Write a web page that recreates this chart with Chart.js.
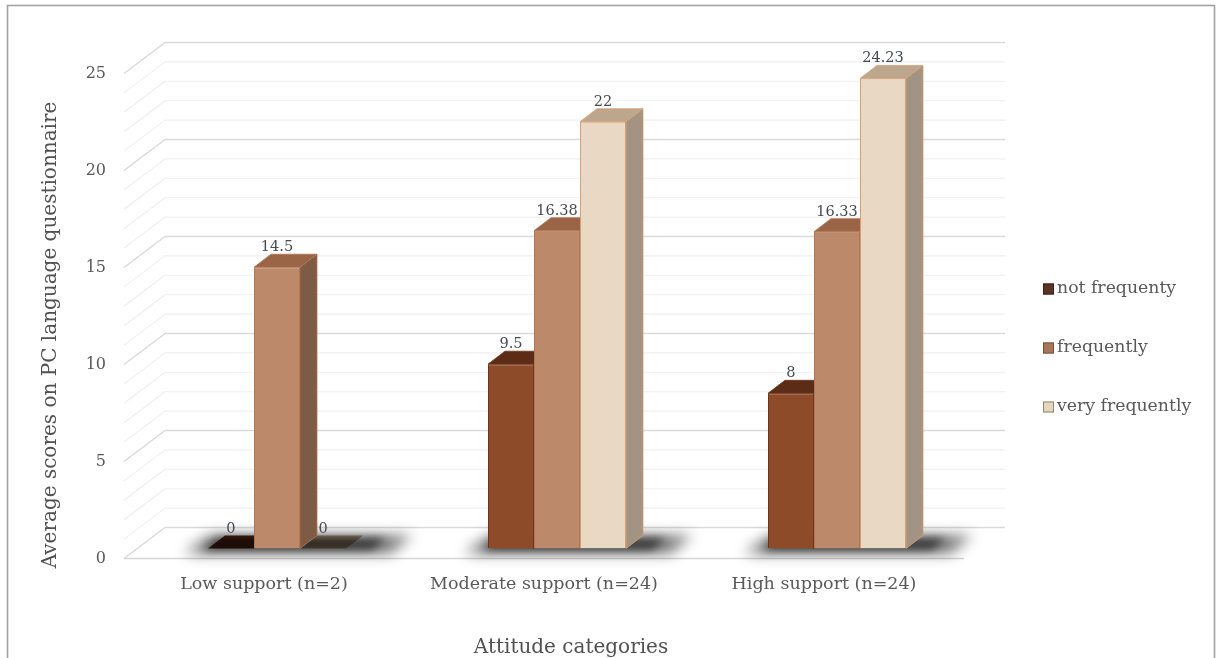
<!DOCTYPE html>
<html>
<head>
<meta charset="utf-8">
<title>Average scores by attitude category</title>
<script src="https://cdn.jsdelivr.net/npm/chart.js@4.4.1/dist/chart.umd.min.js"></script>
<style>
  html, body { margin: 0; padding: 0; background: #ffffff; }
  #wrap { width: 1220px; height: 658px; position: relative; }
  canvas { display: block; }
</style>
</head>
<body>
<div id="wrap"><canvas id="chart" width="1220" height="658"></canvas></div>
<script>
// ---- data ----
const categories = ['Low support (n=2)', 'Moderate support (n=24)', 'High support (n=24)'];
const seriesNames = ['not frequenty', 'frequently', 'very frequently'];
const notFrequently = [0, 9.5, 8];
const frequently = [14.5, 16.38, 16.33];
const veryFrequently = [0, 22, 24.23];
const yTickValues = [0, 5, 10, 15, 20, 25];
const xTitle = 'Attitude categories';
const yTitle = 'Average scores on PC language questionnaire';

// ---- look ----
const FONT = "'DejaVu Serif', 'Liberation Serif', serif";
const TEXT = '#595959';
const faces = [
  { front: '#8e4b2a', top: '#5c2c17', side: '#6b3a22', edge: '#6e3518', key: '#5b3425', keyEdge: '#3b1f14' },
  { front: '#bc8a6b', top: '#9a6446', side: '#7e5b44', edge: '#b07552', key: '#a87658', keyEdge: '#7a5038' },
  { front: '#e9d8c3', top: '#bda68e', side: '#a39382', edge: '#d59f72', key: '#e4d7bb', keyEdge: '#8f8674' }
];
// oblique projection of the depth axis
const BAR_DEPTH = { dx: 17, dy: -13 };
const FLOOR_FRONT = { dx: -13, dy: 10 };
const WALL_BACK = { dx: 28, dy: -21 };

const seriesValues = [notFrequently, frequently, veryFrequently];

function poly(ctx, pts) {
  ctx.beginPath();
  ctx.moveTo(pts[0][0], pts[0][1]);
  for (let i = 1; i < pts.length; i++) ctx.lineTo(pts[i][0], pts[i][1]);
  ctx.closePath();
}
function seg(ctx, x1, y1, x2, y2) {
  ctx.beginPath();
  ctx.moveTo(x1, y1);
  ctx.lineTo(x2, y2);
  ctx.stroke();
}
function barBox(el) {
  const p = el.getProps(['x', 'y', 'base', 'width'], true);
  return { xl: p.x - p.width / 2, xr: p.x + p.width / 2, x: p.x, top: p.y, base: p.base };
}

const scene3d = {
  id: 'scene3d',
  beforeDraw(chart) {
    const ctx = chart.ctx;
    ctx.save();
    ctx.fillStyle = '#ffffff';
    ctx.fillRect(0, 0, chart.width, chart.height);
    ctx.strokeStyle = '#a3a3a3';
    ctx.lineWidth = 1.6;
    ctx.strokeRect(7.5, 5.5, chart.width - 13, chart.height + 40);
    ctx.restore();
  },
  beforeDatasetsDraw(chart) {
    const ctx = chart.ctx;
    const ys = chart.scales.y;
    const ca = chart.chartArea;
    ctx.save();

    // back wall and side wall grid, one line per unit
    for (let v = ys.min; v <= ys.max; v += 1) {
      const py = ys.getPixelForValue(v);
      const major = yTickValues.includes(v);
      ctx.strokeStyle = major ? '#dadada' : '#efefef';
      ctx.lineWidth = major ? 1.5 : 1.1;
      seg(ctx, ca.left + WALL_BACK.dx, py + WALL_BACK.dy, ca.right + WALL_BACK.dx, py + WALL_BACK.dy);
      seg(ctx, ca.left + FLOOR_FRONT.dx, py + FLOOR_FRONT.dy, ca.left + WALL_BACK.dx, py + WALL_BACK.dy);
    }
    // front edge of the floor
    const y0 = ys.getPixelForValue(0);
    ctx.strokeStyle = '#d6d6d6';
    ctx.lineWidth = 1.6;
    seg(ctx, ca.left + FLOOR_FRONT.dx, y0 + FLOOR_FRONT.dy, ca.right + FLOOR_FRONT.dx, y0 + FLOOR_FRONT.dy);

    const metas = chart.data.datasets.map((d, i) => chart.getDatasetMeta(i));
    const dx = BAR_DEPTH.dx, dy = BAR_DEPTH.dy;

    // flat tops of empty bars lie on the floor, under the shadow
    metas.forEach((meta, i) => {
      meta.data.forEach(el => {
        const b = barBox(el);
        if (Math.abs(b.base - b.top) < 0.5) {
          ctx.fillStyle = faces[i].top;
          poly(ctx, [[b.xl, b.base], [b.xl + dx, b.base + dy], [b.xr + dx, b.base + dy], [b.xr, b.base]]);
          ctx.fill();
        }
      });
    });

    // soft floor shadow under each group
    categories.forEach((c, j) => {
      let L = Infinity, R = -Infinity, B = 0;
      metas.forEach(meta => {
        const b = barBox(meta.data[j]);
        L = Math.min(L, b.xl); R = Math.max(R, b.xr); B = b.base;
      });
      ctx.save();
      ctx.filter = 'blur(7px)';
      ctx.fillStyle = 'rgba(0,0,0,0.55)';
      poly(ctx, [[L - 24, B + 5], [R + 44, B + 5], [R + 66, B - 13], [L + 2, B - 13]]);
      ctx.fill();
      ctx.filter = 'blur(4px)';
      ctx.fillStyle = 'rgba(0,0,0,0.55)';
      poly(ctx, [[L - 6, B + 2], [R + 26, B + 2], [R + 40, B - 11], [L + 10, B - 11]]);
      ctx.fill();
      ctx.restore();
    });

    // side faces, then top faces
    ctx.lineWidth = 0.8;
    metas.forEach((meta, i) => {
      meta.data.forEach(el => {
        const b = barBox(el);
        if (Math.abs(b.base - b.top) < 0.5) return;
        ctx.fillStyle = faces[i].side;
        ctx.strokeStyle = faces[i].edge;
        poly(ctx, [[b.xr, b.top], [b.xr + dx, b.top + dy], [b.xr + dx, b.base + dy], [b.xr, b.base]]);
        ctx.fill();
        ctx.stroke();
      });
    });
    metas.forEach((meta, i) => {
      meta.data.forEach(el => {
        const b = barBox(el);
        if (Math.abs(b.base - b.top) < 0.5) return;
        ctx.fillStyle = faces[i].top;
        ctx.strokeStyle = faces[i].edge;
        poly(ctx, [[b.xl, b.top], [b.xl + dx, b.top + dy], [b.xr + dx, b.top + dy], [b.xr, b.top]]);
        ctx.fill();
        ctx.stroke();
      });
    });
    ctx.restore();
  },
  afterDatasetsDraw(chart) {
    const ctx = chart.ctx;
    ctx.save();
    // value labels above each bar
    ctx.font = '14.5px ' + FONT;
    ctx.fillStyle = '#454a52';
    ctx.textAlign = 'center';
    ctx.textBaseline = 'alphabetic';
    chart.data.datasets.forEach((ds, i) => {
      chart.getDatasetMeta(i).data.forEach((el, j) => {
        const b = barBox(el);
        ctx.fillText(String(ds.data[j]), b.x, b.top - 16);
      });
    });

    // legend
    ctx.font = '17.3px ' + FONT;
    ctx.textAlign = 'left';
    ctx.textBaseline = 'middle';
    seriesNames.forEach((name, i) => {
      const cy = 289 + i * 59;
      ctx.fillStyle = faces[i].key;
      ctx.fillRect(1043, cy - 5.5, 11, 11);
      ctx.strokeStyle = faces[i].keyEdge;
      ctx.lineWidth = 1;
      ctx.strokeRect(1043.5, cy - 5, 10, 10);
      ctx.fillStyle = TEXT;
      ctx.fillText(name, 1057, cy);
    });

    // axis titles
    ctx.font = '20px ' + FONT;
    ctx.fillStyle = '#505050';
    ctx.textAlign = 'center';
    ctx.textBaseline = 'alphabetic';
    ctx.fillText(xTitle, 571, 653);
    ctx.save();
    ctx.translate(51, 335);
    ctx.rotate(-Math.PI / 2);
    ctx.textBaseline = 'middle';
    ctx.fillText(yTitle, 0, 0);
    ctx.restore();
    ctx.restore();
  }
};

new Chart(document.getElementById('chart'), {
  type: 'bar',
  data: {
    labels: categories,
    datasets: seriesNames.map((name, i) => ({
      label: name,
      data: seriesValues[i],
      backgroundColor: faces[i].front,
      borderColor: faces[i].edge,
      borderWidth: 1,
      categoryPercentage: 0.493,
      barPercentage: 1
    }))
  },
  options: {
    responsive: false,
    animation: false,
    devicePixelRatio: 1,
    layout: { padding: { top: 63.5, right: 243, bottom: 0, left: 0 } },
    plugins: {
      legend: { display: false },
      tooltip: { enabled: false },
      title: { display: false }
    },
    scales: {
      x: {
        type: 'category',
        offset: true,
        grid: { display: false, drawTicks: false },
        border: { display: false },
        ticks: {
          color: TEXT,
          font: { family: FONT, size: 17.5 },
          padding: 25,
          labelOffset: -13,
          maxRotation: 0,
          autoSkip: false
        },
        afterFit(axis) { axis.height = 109.5; }
      },
      y: {
        min: 0,
        max: 25,
        grid: { display: false, drawTicks: false },
        border: { display: false },
        ticks: {
          stepSize: 5,
          color: TEXT,
          font: { family: FONT, size: 16 },
          padding: 31,
          labelOffset: 10,
          callback: v => (yTickValues.includes(v) ? String(v) : '')
        },
        afterFit(axis) { axis.width = 137; }
      }
    }
  },
  plugins: [scene3d]
});
</script>
</body>
</html>
